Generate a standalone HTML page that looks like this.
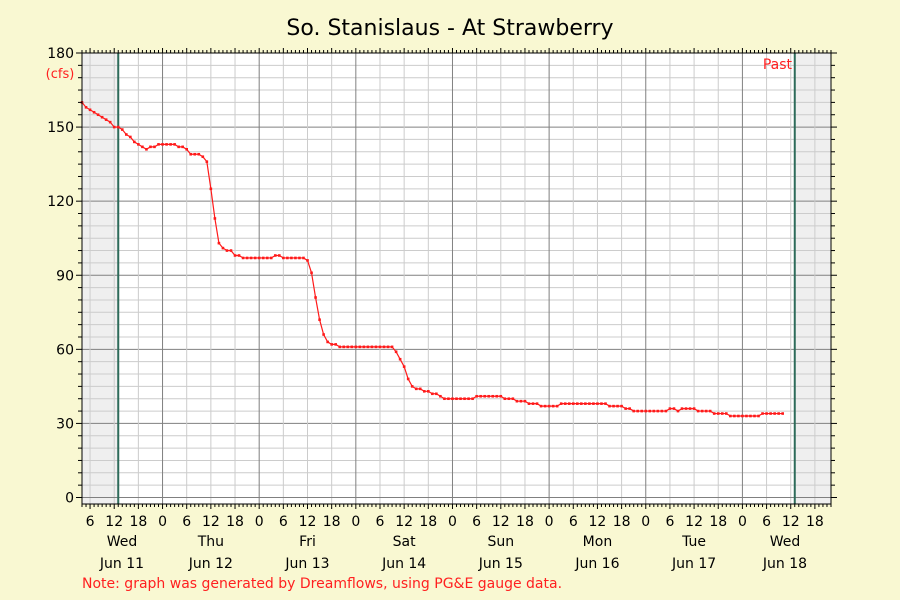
<!DOCTYPE html>
<html><head><meta charset="utf-8"><style>
body{margin:0;background:#f9f8d2;}
svg{display:block;font-family:"DejaVu Sans","Liberation Sans",sans-serif;}
</style></head><body>
<svg id="c" width="900" height="600">
<rect width="900" height="600" fill="#f9f8d2"/>
<text x="450" y="35" font-size="22" text-anchor="middle" fill="#000">So. Stanislaus - At Strawberry</text>
<text x="60" y="78" font-size="13" text-anchor="middle" fill="#ff2020">(cfs)</text>
<text x="82" y="588" font-size="14" fill="#ff2020">Note: graph was generated by Dreamflows, using PG&amp;E gauge data.</text>
<g id="plot"></g>
</svg>
<script>
// hourly flow values (cfs) starting Jun 11 04:00
const flowValues = [160,158,157,156,155,154,153,152,150,150,
149,147,146,144,143,142,141,142,142,143,
143,143,143,143,142,142,141,139,139,139,
138,136,125,113,103,101,100,100,98,98,
97,97,97,97,97,97,97,97,98,98,
97,97,97,97,97,97,96,91,81,72,
66,63,62,62,61,61,61,61,61,61,
61,61,61,61,61,61,61,61,59,56,
53,48,45,44,44,43,43,42,42,41,
40,40,40,40,40,40,40,40,41,41,
41,41,41,41,41,40,40,40,39,39,
39,38,38,38,37,37,37,37,37,38,
38,38,38,38,38,38,38,38,38,38,
38,37,37,37,37,36,36,35,35,35,
35,35,35,35,35,35,36,36,35,36,
36,36,36,35,35,35,35,34,34,34,
34,33,33,33,33,33,33,33,33,34,
34,34,34,34,34];
const startHour = 4;            // data starts Jun 11 04:00 (hours from Jun 11 00:00)
const yTicks = [0,30,60,90,120,150,180];
const dayNames = ["Wed","Thu","Fri","Sat","Sun","Mon","Tue","Wed"];
const dayDates = ["Jun 11","Jun 12","Jun 13","Jun 14","Jun 15","Jun 16","Jun 17","Jun 18"];
const hourLabels = ["0","6","12","18"];
const nowMarkers = [13, 181];   // hours from Jun 11 00:00

const X0=82, X1=831, Y0=497.5, Y1=53;
const HMIN=4, HMAX=190; // Jun11 04:00 .. Jun18 22:00
const x = h => X0 + (h-HMIN)*(X1-X0)/(HMAX-HMIN);
const y = v => Y0 - v*(Y0-Y1)/180;
const NS="http://www.w3.org/2000/svg";
const g=document.getElementById('plot');
function el(t,a,p){const e=document.createElementNS(NS,t);for(const k in a)e.setAttribute(k,a[k]);(p||g).appendChild(e);return e;}

const bg=el('rect',{x:X0,y:Y1,width:X1-X0,height:504-Y1,fill:'#fff'});


const s1=el('rect',{x:X0,y:Y1,width:x(nowMarkers[0])-X0,height:504-Y1,fill:'#efefef'});


const s2=el('rect',{x:x(nowMarkers[1]),y:Y1,width:X1-x(nowMarkers[1]),height:504-Y1,fill:'#efefef'});



// horizontal grid every 5
for(let v=5;v<=175;v+=5){const major=v%30===0;
 const l=el('line',{x1:X0,x2:X1,y1:y(v),y2:y(v),stroke:major?'#808080':'#cccccc','stroke-width':1});
 
 }
// vertical grid every 6h
for(let h=6;h<HMAX;h+=6){const major=h%24===0;
 const l=el('line',{x1:x(h),x2:x(h),y1:Y1,y2:504,stroke:major?'#808080':'#cccccc','stroke-width':1});
 
 }
// zero line
const z=el('line',{x1:X0,x2:X1,y1:y(0),y2:y(0),stroke:'#808080'});


// now markers
nowMarkers.forEach(h=>{const l=el('line',{x1:x(h),x2:x(h),y1:Y1,y2:504,stroke:'#2e6b5a','stroke-width':2});
 
 });

// series
let pts=flowValues.map((v,i)=>x(startHour+i).toFixed(2)+','+y(v).toFixed(2)).join(' ');
const line=el('polyline',{points:pts,fill:'none',stroke:'#ff1a1a','stroke-width':1.2});


flowValues.forEach((v,i)=>{const c=el('rect',{x:x(startHour+i)-1.3,y:y(v)-1.3,width:2.6,height:2.6,fill:'#ff1a1a'});
 
 });

// frame
const fr=el('rect',{x:X0,y:Y1,width:X1-X0,height:504-Y1,fill:'none',stroke:'#000','stroke-width':1});


// y ticks
for(let v=0;v<=180;v+=5){const len=v%30===0?6:4;
 [[X0,X0-len],[X1,X1+len]].forEach(([a,b])=>{const t=el('line',{x1:a,x2:b,y1:y(v),y2:y(v),stroke:'#000'});
 
 });}
yTicks.forEach(v=>{const t=el('text',{x:X0-8,y:y(v)+5,'font-size':14,'text-anchor':'end',fill:'#000'});
 t.textContent=v;
 
 });
// x ticks hourly
for(let h=HMIN;h<=HMAX;h++){const len=h%6===0?5:3;
 const t1=el('line',{x1:x(h),x2:x(h),y1:504,y2:504+len,stroke:'#000'});
 
 
 const t2=el('line',{x1:x(h),x2:x(h),y1:Y1,y2:Y1-len,stroke:'#000'});
 
 }
for(let h=6;h<HMAX;h+=6){const t=el('text',{x:x(h),y:526,'font-size':14,'text-anchor':'middle',fill:'#000'});
 t.textContent=hourLabels[(h%24)/6];
 
 }
dayNames.forEach((d,i)=>{let cx=x(i*24+12);if(i===0)cx=122;if(i===7)cx=785;
 const t=el('text',{x:cx,y:546,'font-size':14,'text-anchor':'middle',fill:'#000'});
 t.textContent=d;
 
 
 const t2=el('text',{x:cx,y:568,'font-size':14,'text-anchor':'middle',fill:'#000'});
 t2.textContent=dayDates[i];
 
 });
const past=el('text',{x:792,y:69,'font-size':14,'text-anchor':'end',fill:'#ff2020'});
past.textContent='Past';


</script>
</body></html>
